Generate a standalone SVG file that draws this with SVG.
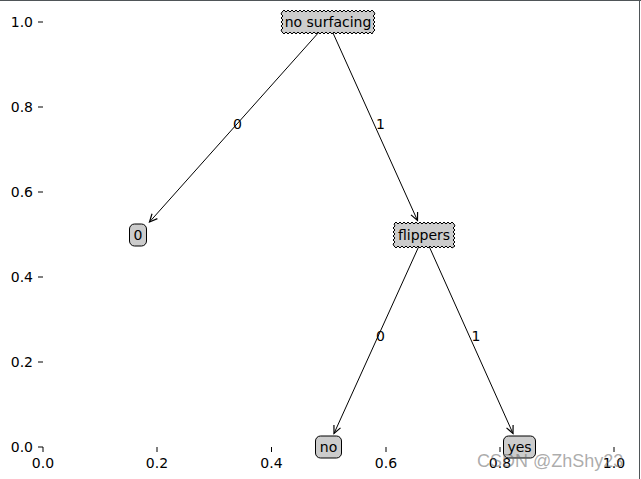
<svg xmlns="http://www.w3.org/2000/svg" width="641" height="479" viewBox="0 0 641 479">
<style>
text{font-family:"DejaVu Sans",sans-serif;font-size:14px;fill:#000}
.node{fill:#cccccc;stroke:#000;stroke-width:1}
.edge{stroke:#000;stroke-width:1;fill:none}
.tick{stroke:#000;stroke-width:1}
.yl{text-anchor:end}
.xl{text-anchor:middle}
.c{text-anchor:middle}
</style>
<defs>
<marker id="ah" markerUnits="userSpaceOnUse" markerWidth="12" markerHeight="12" viewBox="-8 -5 10 10" refX="0" refY="0" orient="auto-start-reverse">
<path d="M-6.5,-3 L0,0 L-6.5,3" fill="none" stroke="#000" stroke-width="1"/>
</marker>
</defs>
<rect width="641" height="479" fill="#fff"/>
<g id="axes">
<line class="tick" x1="38" y1="22" x2="43" y2="22"/>
<line class="tick" x1="38" y1="107" x2="43" y2="107"/>
<line class="tick" x1="38" y1="192" x2="43" y2="192"/>
<line class="tick" x1="38" y1="277" x2="43" y2="277"/>
<line class="tick" x1="38" y1="362" x2="43" y2="362"/>
<line class="tick" x1="38" y1="447" x2="43" y2="447"/>
<text class="yl" x="33" y="27">1.0</text>
<text class="yl" x="33" y="112">0.8</text>
<text class="yl" x="33" y="197">0.6</text>
<text class="yl" x="33" y="282">0.4</text>
<text class="yl" x="33" y="367">0.2</text>
<text class="yl" x="33" y="452">0.0</text>
<line class="tick" x1="43" y1="447" x2="43" y2="452"/>
<line class="tick" x1="157" y1="447" x2="157" y2="452"/>
<line class="tick" x1="271.5" y1="447" x2="271.5" y2="452"/>
<line class="tick" x1="386" y1="447" x2="386" y2="452"/>
<line class="tick" x1="500" y1="447" x2="500" y2="452"/>
<line class="tick" x1="614" y1="447" x2="614" y2="452"/>
<text class="xl" x="43" y="468">0.0</text>
<text class="xl" x="157" y="468">0.2</text>
<text class="xl" x="271.5" y="468">0.4</text>
<text class="xl" x="386" y="468">0.6</text>
<text class="xl" x="500" y="468">0.8</text>
<text class="xl" x="614" y="468">1.0</text>
</g>
<g id="connectors">
<line class="edge" x1="149.5" y1="222" x2="326.2" y2="24" marker-start="url(#ah)"/>
<line class="edge" x1="417.5" y1="220.5" x2="329.2" y2="24.5" marker-start="url(#ah)"/>
<line class="edge" x1="334" y1="433.5" x2="422.8" y2="237.6" marker-start="url(#ah)"/>
<line class="edge" x1="513" y1="433.5" x2="425.2" y2="237.6" marker-start="url(#ah)"/>
<text x="233" y="129">0</text>
<text x="376" y="129">1</text>
<text x="376" y="341">0</text>
<text x="471.5" y="341">1</text>
</g>
<g id="node-no-surfacing">
<polygon class="node" points="282,12 284,10 286,12 288,10 290,12 292,10 294,12 296,10 298,12 300,10 302,12 304,10 306,12 308,10 310,12 312,10 314,12 316,10 318,12 320,10 322,12 324,10 326,12 328,10 330,12 332,10 334,12 336,10 338,12 340,10 342,12 344,10 346,12 348,10 350,12 352,10 354,12 356,10 358,12 360,10 362,12 364,10 366,12 368,10 370,12 372,10 374,12 375,14 373,16 375,18 373,20 375,22 373,24 375,26 373,28 375,30 373,32 372,34 370,32 368,34 366,32 364,34 362,32 360,34 358,32 356,34 354,32 352,34 350,32 348,34 346,32 344,34 342,32 340,34 338,32 336,34 334,32 332,34 330,32 328,34 326,32 324,34 322,32 320,34 318,32 316,34 314,32 312,34 310,32 308,34 306,32 304,34 302,32 300,34 298,32 296,34 294,32 292,34 290,32 288,34 286,32 284,34 282,32 281,30 283,28 281,26 283,24 281,22 283,20 281,18 283,16 281,14"/>
<text class="c" x="328" y="27">no surfacing</text>
</g>
<g id="node-flippers">
<polygon class="node" points="394,224 396,222 398,224 400,222 402,224 404,222 406,224 408,222 410,224 412,222 414,224 416,222 418,224 420,222 422,224 424,222 426,224 428,222 430,224 432,222 434,224 436,222 438,224 440,222 442,224 444,222 446,224 448,222 450,224 452,222 454,224 455,226 453,228 455,230 453,232 455,234 453,236 455,238 453,240 455,242 453,244 455,246 452,248 450,246 448,248 446,246 444,248 442,246 440,248 438,246 436,248 434,246 432,248 430,246 428,248 426,246 424,248 422,246 420,248 418,246 416,248 414,246 412,248 410,246 408,248 406,246 404,248 402,246 400,248 398,246 396,248 394,246 393,244 395,242 393,240 395,238 393,236 395,234 393,232 395,230 393,228 395,226"/>
<text class="c" x="424" y="240">flippers</text>
</g>
<g id="node-leaf-0">
<rect class="node" x="129.5" y="224" width="17" height="22" rx="5"/>
<text class="c" x="138" y="240">0</text>
</g>
<g id="node-leaf-no">
<rect class="node" x="315.5" y="436" width="26" height="22" rx="5"/>
<text class="c" x="328.5" y="452">no</text>
</g>
<g id="node-leaf-yes">
<rect class="node" x="503.5" y="436" width="32" height="22" rx="5"/>
<text class="c" x="519.5" y="452">yes</text>
</g>
<text x="477" y="467" style="font-family:'Liberation Sans',Arial,sans-serif;font-size:18px;fill:#666;fill-opacity:0.55">CSDN @ZhShy23</text>
<line x1="0" y1="0.5" x2="641" y2="0.5" stroke="#4f5558" stroke-width="1.2"/>
<line x1="639.5" y1="0" x2="639.5" y2="479" stroke="#4f5558" stroke-width="1"/>
</svg>
